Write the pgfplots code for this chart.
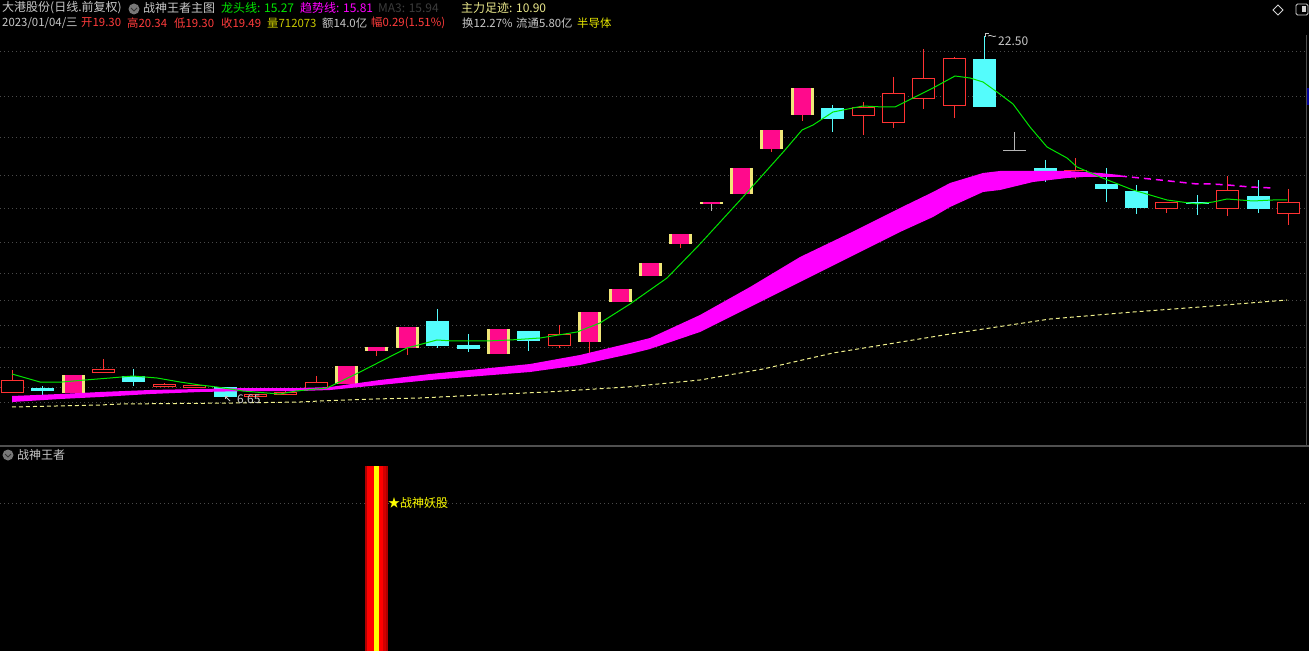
\documentclass[border=0pt]{standalone}
\usepackage{pgfplots}
\pgfplotsset{compat=1.18}
\usepackage{pgfplotstable}
\usepackage{fontspec}
\setmainfont{Noto Sans CJK SC}
\definecolor{gridc}{HTML}{4A4A4A}
\definecolor{sepc}{HTML}{505050}
\definecolor{candred}{HTML}{FF3232}
\definecolor{candcyan}{HTML}{54FCFC}
\definecolor{candpink}{HTML}{FF0A8C}
\definecolor{candyel}{HTML}{F0E678}
\definecolor{bandmag}{HTML}{FF00FF}
\definecolor{linegreen}{HTML}{00E600}
\definecolor{lineyel}{HTML}{F0F08C}
\definecolor{txtgray}{HTML}{C8C8C8}
\definecolor{txtdark}{HTML}{3C3C3C}
\definecolor{txtred}{HTML}{FF3C3C}
\definecolor{txtolive}{HTML}{C8C800}
\definecolor{txtyel}{HTML}{E6E600}
\definecolor{lyel}{HTML}{E8E68A}
\definecolor{dojigray}{HTML}{B4B4B4}
\definecolor{sigdark}{HTML}{B00000}
\definecolor{sigred}{HTML}{FF0000}
\definecolor{sigmid}{HTML}{D20000}
\definecolor{sigyel}{HTML}{FFFF00}
\definecolor{iconc}{HTML}{787878}

% pixel units: x to the right, y downward (0 = top of picture)
% red hollow (up) candles: body top, body bottom, high, low
\pgfplotstableread{
i top bot hi lo
0 380 393 370 393
3 369 373 359 373
5 384 387 383 387
6 385 388 385 388
8 394 397 394 397
9 392 395 390 395
10 382 390 376 390
18 334 346 325 348
28 107 116 102 135
29 93 123 77 128
30 78 99 49 109
31 58 106 57 118
35 170 175 158 179
38 202 209 202 213
40 190 209 176 216
42 202 214 189 225
}\redtab
% cyan (down) candles
\pgfplotstableread{
i top bot hi lo
1 388 391 386 395
4 376 382 369 386
7 387 397 387 398
14 321 346 309 348
15 345 349 334 352
17 331 341 331 351
27 108 119 105 132
32 59 107 36 107
34 168 171 160 182
36 184 189 168 202
37 191 208 185 214
39 202 204 195 215
41 196 209 180 213
}\cyantab
% pink candles with yellow edges
\pgfplotstableread{
i top bot hi lo
2 375 393 375 393
11 366 384 366 384
12 347 351 347 356
13 327 348 327 355
16 329 354 329 354
19 312 342 312 353
20 289 302 289 302
21 263 276 263 276
22 234 244 234 248
23 202.5 204 203 203
24 168 194 168 194
25 130 149 130 152
26 88 115 88 121
}\pinktab
% unchanged (gray) candles
\pgfplotstableread{
i top bot hi lo
23 203 203 203 211
33 150.5 151.5 132 151
}\graytab
% signal bar in the lower panel
\pgfplotstableread{
i top bot hi lo
12 466 651 466 651
}\sigtab

% draw one vertical thick segment per row of a table
% #1 table, #2 colour, #3 width, #4 first column, #5 second column, #6 inset, #7 x offset
\newcommand\segs[7]{%
  \pgfplotstablegetrowsof{#1}%
  \pgfmathtruncatemacro\nrows{\pgfplotsretval-1}%
  \pgfplotsforeachungrouped \r in {0,...,\nrows}{%
    \pgfplotstablegetelem{\r}{i}\of#1\pgfmathsetmacro\cx{12.4+30.38*\pgfplotsretval+#7}%
    \pgfplotstablegetelem{\r}{#4}\of#1\pgfmathsetmacro\ca{\pgfplotsretval+#6}%
    \pgfplotstablegetelem{\r}{#5}\of#1\pgfmathsetmacro\cb{\pgfplotsretval-#6}%
    \edef\tmp{\noexpand\addplot[draw=#2, line width=#3, line cap=butt, mark=none, forget plot] coordinates {(\cx,\ca) (\cx,\cb)};}%
    \tmp
  }%
}

\newcommand\hf{\fontsize{12bp}{14bp}\selectfont}
\newcommand\hfs{\fontsize{11.4bp}{13bp}\selectfont}

\begin{document}
\begin{tikzpicture}[x=1bp,y=1bp]
\path[use as bounding box] (0,0) rectangle (1309,651);
\fill[black] (0,0) rectangle (1309,651);
\begin{axis}[
  at={(0,0)}, anchor=south west,
  width=1309bp, height=651bp, scale only axis,
  xmin=0, xmax=1309, ymin=0, ymax=651, y dir=reverse,
  axis lines=none, clip=true,
]
% grid lines
\pgfplotsinvokeforeach{52,97,138,176,209,243,274,301,326,348,368,387,402,503}{
  \draw[gridc, line width=1bp, dash pattern=on 1bp off 3bp] (axis cs:0,#1) -- (axis cs:1305,#1);
}
\draw[sepc, line width=1.2bp] (axis cs:0,446) -- (axis cs:1309,446);
\draw[sepc, line width=1bp] (axis cs:1306,35) -- (axis cs:1306,446);
\fill[blue!60!black] (axis cs:1307,88) rectangle (axis cs:1309,105);

% wicks
\segs{\redtab}{candred}{1bp}{hi}{lo}{0}{0}
\segs{\pinktab}{candred}{1bp}{hi}{lo}{0}{0}
\segs{\cyantab}{candcyan}{1bp}{hi}{lo}{0}{0}
\segs{\graytab}{dojigray}{1bp}{hi}{lo}{0}{0}
% bodies
\segs{\redtab}{candred}{23bp}{top}{bot}{0}{0}
\segs{\redtab}{black}{21bp}{top}{bot}{1}{0}
\segs{\cyantab}{candcyan}{23bp}{top}{bot}{0}{0}
\segs{\pinktab}{candyel}{23bp}{top}{bot}{0}{0}
\segs{\pinktab}{candpink}{17bp}{top}{bot}{0}{0}
\segs{\graytab}{dojigray}{23bp}{top}{bot}{0}{0}

% trend band (趋势线)
\addplot[fill=bandmag, draw=none, forget plot] coordinates {
(12,396) (60,394) (100,392) (150,390) (200,389) (250,388) (300,388) (330,387) (380,380) (430,374) (480,369) (530,364) (580,355) (630,343) (650,338) (700,315) (750,287) (800,257) (850,233) (900,208) (933,192) (950,183) (983,173) (1000,171) (1033,171) (1067,171) (1083,172) (1100,173) (1120,175)
(1120,177) (1100,177) (1083,177) (1067,178) (1033,182) (1000,190) (983,192) (950,207) (933,217) (900,232) (850,257) (800,282) (750,307) (700,332) (650,349) (630,354) (580,365) (530,372) (480,376) (430,380) (380,385) (330,390) (300,391) (250,391) (200,392) (150,394) (100,397) (60,399) (12,402)
};
\addplot[draw=bandmag, line width=1.5bp, dash pattern=on 7bp off 5bp, forget plot] coordinates {
(1120,176) (1160,180) (1197,184) (1212,184) (1228,185) (1250,187) (1273,188)
};
% main force trace (主力足迹)
\addplot[draw=lineyel, line width=1bp, dash pattern=on 4bp off 3bp, forget plot] coordinates {
(12,407) (100,405) (120,404) (233,403) (300,402) (320,401) (373,399) (420,398) (480,395) (547,392) (627,387) (700,380) (763,369) (833,353) (950,334) (1050,319) (1133,312) (1200,307) (1287,300)
};
% leader line (龙头线)
\addplot[draw=linegreen, line width=1bp, forget plot] coordinates {
(12,374) (40,382) (62,382) (85,380) (110,378) (133,376) (157,378) (180,382) (200,385) (217,387) (243,391) (267,393) (280,394) (296,391) (327,388) (358,373) (407,348) (437,340) (453,341) (487,341) (510,340) (540,338) (577,332) (600,323) (630,304) (667,278) (700,244) (743,197) (785,150) (802,130) (813,125) (833,112) (863,106) (883,107) (895,107) (913,98) (933,88) (955,76) (970,78) (983,82) (997,92) (1013,104) (1030,127) (1047,147) (1067,158) (1077,167) (1100,177) (1133,190) (1167,200) (1197,204) (1213,202) (1227,199) (1240,200) (1253,201) (1273,200) (1287,200)
};

% signal bar (lower panel)
\segs{\sigtab}{sigdark}{23bp}{top}{bot}{0}{-0.9}
\segs{\sigtab}{sigred}{16.5bp}{top}{bot}{0}{-2.15}
\segs{\sigtab}{sigmid}{2.5bp}{top}{bot}{0}{7.35}
\segs{\sigtab}{sigyel}{5bp}{top}{bot}{0}{-0.9}

% extreme labels
\draw[txtgray, line width=0.8bp] (axis cs:985,37) -- (axis cs:985,33) -- (axis cs:989,33);
\draw[txtgray, line width=0.8bp] (axis cs:988,36) .. controls (axis cs:991,34) and (axis cs:993,38) .. (axis cs:996,36);
\node[anchor=west, inner sep=0pt, text=txtgray, font=\hf] at (axis cs:998,41) {22.50};
\draw[txtgray, line width=0.8bp] (axis cs:230,401) -- (axis cs:225,396);
\draw[txtgray, line width=0.8bp] (axis cs:225,399) -- (axis cs:225,396) -- (axis cs:228,396);
\node[anchor=west, inner sep=0pt, text=txtgray, font=\hf] at (axis cs:237,399) {6.65};

% header row 1
\node[anchor=west, inner sep=0pt, text=txtgray, font=\hf] at (axis cs:2,8) {大港股份(日线.前复权)};
\fill[iconc] (axis cs:134,9) circle[radius=5.5bp];
\draw[black!80, line width=1bp] (axis cs:131,8) -- (axis cs:134,11) -- (axis cs:137,8);
\node[anchor=west, inner sep=0pt, text=txtgray, font=\hf] at (axis cs:143,8) {战神王者主图};
\node[anchor=west, inner sep=0pt, text=linegreen, font=\hf] at (axis cs:221,8) {龙头线: 15.27};
\node[anchor=west, inner sep=0pt, text=bandmag, font=\hf] at (axis cs:300,8) {趋势线: 15.81};
\node[anchor=west, inner sep=0pt, text=txtdark, font=\hf] at (axis cs:378,8) {MA3: 15.94};
\node[anchor=west, inner sep=0pt, text=lyel, font=\hf] at (axis cs:461,8) {主力足迹: 10.90};
% header row 2
\node[anchor=west, inner sep=0pt, text=txtgray, font=\hfs] at (axis cs:2,23) {2023/01/04/三};
\node[anchor=west, inner sep=0pt, text=txtred, font=\hfs] at (axis cs:81,23) {开19.30};
\node[anchor=west, inner sep=0pt, text=txtred, font=\hfs] at (axis cs:127,23) {高20.34};
\node[anchor=west, inner sep=0pt, text=txtred, font=\hfs] at (axis cs:174,23) {低19.30};
\node[anchor=west, inner sep=0pt, text=txtred, font=\hfs] at (axis cs:221,23) {收19.49};
\node[anchor=west, inner sep=0pt, text=txtolive, font=\hfs] at (axis cs:267,23) {量712073};
\node[anchor=west, inner sep=0pt, text=txtgray, font=\hfs] at (axis cs:322,23) {额14.0亿};
\node[anchor=west, inner sep=0pt, text=txtred, font=\hfs] at (axis cs:371,23) {幅0.29(1.51\%)};
\node[anchor=west, inner sep=0pt, text=txtgray, font=\hfs] at (axis cs:462,23) {换12.27\%};
\node[anchor=west, inner sep=0pt, text=txtgray, font=\hfs] at (axis cs:516,23) {流通5.80亿};
\node[anchor=west, inner sep=0pt, text=txtyel, font=\hfs] at (axis cs:577,23) {半导体};
% top-right icons
\draw[txtgray!80, line width=0.8bp] (axis cs:1273,10) -- (axis cs:1278,5) -- (axis cs:1283,10) -- (axis cs:1278,15) -- cycle;
\draw[txtgray!80, line width=0.9bp, rounded corners=1.5bp] (axis cs:1296,4) rectangle (axis cs:1308,15);
\fill[txtgray!80] (axis cs:1302,6.5) rectangle (axis cs:1305.5,12.5);

% lower panel title and signal text
\fill[iconc] (axis cs:8,455) circle[radius=5.5bp];
\draw[black!80, line width=1bp] (axis cs:5,454) -- (axis cs:8,457) -- (axis cs:11,454);
\node[anchor=west, inner sep=0pt, text=txtgray, font=\hf] at (axis cs:17,455) {战神王者};
\node[anchor=west, inner sep=0pt, text=sigyel, font=\hf] at (axis cs:388,503) {★战神妖股};
\end{axis}
\end{tikzpicture}
\end{document}
